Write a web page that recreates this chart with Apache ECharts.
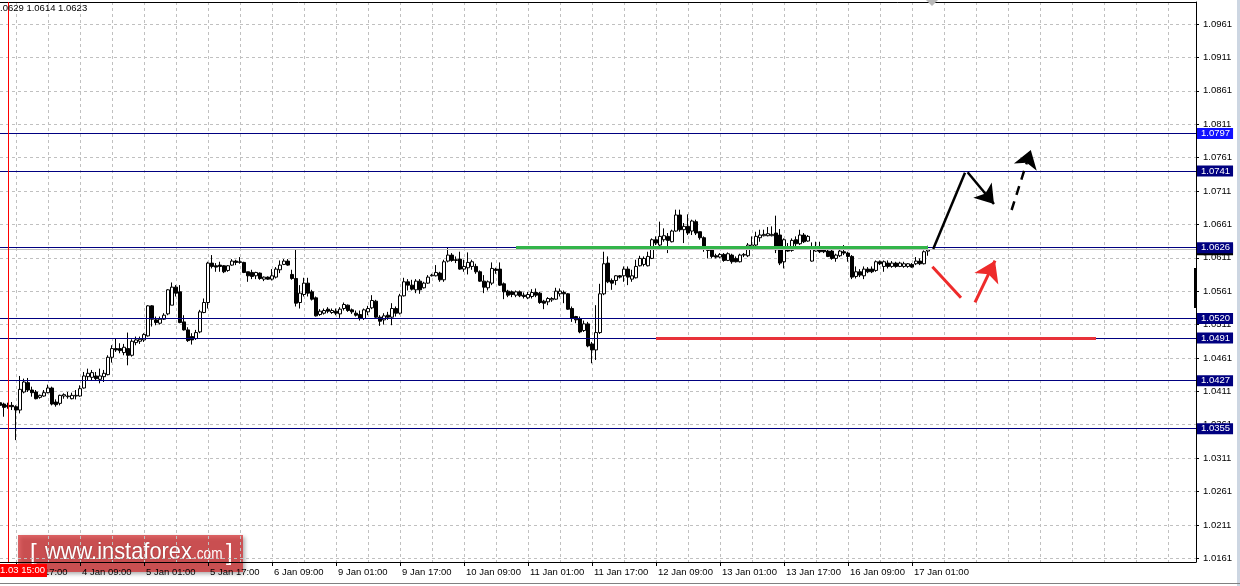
<!DOCTYPE html>
<html><head><meta charset="utf-8">
<script src="https://cdn.jsdelivr.net/npm/echarts@6/dist/echarts.min.js"></script>
<style>html,body{margin:0;padding:0;background:#fff}#c{width:1240px;height:586px}</style>
</head><body><div id="c"></div>
<script>
// EURUSD H1 bars: [open, high, low, close]
const ohlc = [
[1.0394,1.0398,1.0373,1.0390],[1.0392,1.0394,1.0373,1.0387],[1.0390,1.0394,1.0385,1.0388],[1.0390,1.0395,1.0383,1.0388],
[1.0388,1.0390,1.0338,1.0383],[1.0383,1.0434,1.0378,1.0414],[1.0410,1.0430,1.0408,1.0425],[1.0424,1.0431,1.0410,1.0413],
[1.0413,1.0418,1.0403,1.0409],[1.0410,1.0413,1.0399,1.0400],[1.0402,1.0406,1.0400,1.0405],[1.0404,1.0413,1.0403,1.0409],
[1.0409,1.0421,1.0408,1.0416],[1.0416,1.0418,1.0390,1.0392],[1.0395,1.0399,1.0388,1.0391],[1.0393,1.0406,1.0390,1.0405],
[1.0404,1.0408,1.0400,1.0406],[1.0403,1.0410,1.0400,1.0404],[1.0400,1.0409,1.0399,1.0405],[1.0404,1.0413,1.0399,1.0405],
[1.0404,1.0420,1.0403,1.0415],[1.0416,1.0440,1.0415,1.0434],[1.0433,1.0445,1.0428,1.0438],[1.0432,1.0443,1.0428,1.0439],
[1.0434,1.0440,1.0428,1.0430],[1.0429,1.0445,1.0423,1.0434],[1.0433,1.0443,1.0425,1.0438],[1.0436,1.0465,1.0435,1.0462],
[1.0462,1.0480,1.0454,1.0475],[1.0475,1.0490,1.0470,1.0473],[1.0475,1.0483,1.0468,1.0472],[1.0469,1.0482,1.0465,1.0477],
[1.0475,1.0499,1.0450,1.0465],[1.0465,1.0489,1.0463,1.0486],[1.0484,1.0493,1.0480,1.0488],[1.0486,1.0493,1.0482,1.0489],
[1.0488,1.0498,1.0485,1.0496],[1.0494,1.0540,1.0493,1.0539],[1.0539,1.0540,1.0508,1.0519],[1.0518,1.0523,1.0510,1.0514],
[1.0513,1.0523,1.0511,1.0519],[1.0519,1.0528,1.0518,1.0525],[1.0527,1.0564,1.0525,1.0563],[1.0540,1.0574,1.0540,1.0567],
[1.0567,1.0570,1.0553,1.0558],[1.0560,1.0570,1.0513,1.0514],[1.0515,1.0525,1.0502,1.0503],[1.0503,1.0507,1.0485,1.0487],
[1.0493,1.0498,1.0481,1.0488],[1.0490,1.0503,1.0488,1.0499],[1.0500,1.0533,1.0498,1.0530],[1.0529,1.0550,1.0528,1.0544],
[1.0544,1.0605,1.0535,1.0603],[1.0603,1.0615,1.0595,1.0598],[1.0599,1.0603,1.0590,1.0597],[1.0600,1.0605,1.0590,1.0598],
[1.0599,1.0600,1.0588,1.0590],[1.0592,1.0600,1.0590,1.0599],[1.0600,1.0609,1.0599,1.0606],[1.0606,1.0608,1.0600,1.0604],
[1.0604,1.0612,1.0602,1.0605],[1.0604,1.0605,1.0588,1.0589],[1.0590,1.0590,1.0575,1.0584],[1.0589,1.0593,1.0579,1.0583],
[1.0584,1.0590,1.0579,1.0589],[1.0588,1.0589,1.0578,1.0580],[1.0579,1.0583,1.0576,1.0582],[1.0582,1.0583,1.0578,1.0579],
[1.0579,1.0594,1.0577,1.0584],[1.0582,1.0597,1.0580,1.0594],[1.0593,1.0607,1.0588,1.0600],[1.0601,1.0609,1.0600,1.0606],
[1.0606,1.0609,1.0599,1.0600],[1.0586,1.0593,1.0578,1.0580],[1.0580,1.0623,1.0538,1.0543],[1.0544,1.0570,1.0535,1.0558],
[1.0556,1.0581,1.0553,1.0573],[1.0573,1.0581,1.0553,1.0558],[1.0560,1.0563,1.0547,1.0549],[1.0551,1.0553,1.0523,1.0524],
[1.0526,1.0534,1.0524,1.0531],[1.0528,1.0535,1.0526,1.0532],[1.0534,1.0537,1.0528,1.0531],[1.0529,1.0535,1.0527,1.0532],
[1.0531,1.0535,1.0525,1.0528],[1.0527,1.0537,1.0521,1.0534],[1.0535,1.0544,1.0532,1.0541],[1.0540,1.0541,1.0530,1.0532],
[1.0533,1.0535,1.0527,1.0530],[1.0528,1.0532,1.0523,1.0525],[1.0526,1.0532,1.0517,1.0520],[1.0520,1.0535,1.0518,1.0533],
[1.0530,1.0539,1.0525,1.0535],[1.0536,1.0555,1.0534,1.0547],[1.0546,1.0548,1.0521,1.0522],[1.0522,1.0525,1.0509,1.0516],
[1.0518,1.0528,1.0511,1.0524],[1.0525,1.0530,1.0518,1.0522],[1.0522,1.0543,1.0510,1.0535],[1.0535,1.0538,1.0523,1.0528],
[1.0528,1.0557,1.0526,1.0554],[1.0554,1.0581,1.0553,1.0575],[1.0575,1.0579,1.0562,1.0570],[1.0570,1.0578,1.0562,1.0564],
[1.0563,1.0579,1.0558,1.0576],[1.0576,1.0579,1.0557,1.0563],[1.0566,1.0575,1.0565,1.0573],[1.0573,1.0585,1.0572,1.0582],
[1.0584,1.0587,1.0583,1.0585],[1.0584,1.0600,1.0583,1.0589],[1.0588,1.0590,1.0575,1.0578],[1.0578,1.0608,1.0575,1.0605],
[1.0606,1.0626,1.0604,1.0615],[1.0615,1.0618,1.0605,1.0607],[1.0608,1.0613,1.0603,1.0607],[1.0609,1.0620,1.0593,1.0594],
[1.0594,1.0608,1.0590,1.0598],[1.0596,1.0619,1.0586,1.0604],[1.0598,1.0608,1.0593,1.0605],[1.0598,1.0602,1.0587,1.0590],
[1.0590,1.0592,1.0575,1.0576],[1.0576,1.0585,1.0558,1.0567],[1.0566,1.0577,1.0562,1.0575],[1.0573,1.0604,1.0570,1.0595],
[1.0594,1.0596,1.0587,1.0592],[1.0594,1.0604,1.0569,1.0570],[1.0572,1.0574,1.0549,1.0560],[1.0561,1.0563,1.0552,1.0555],
[1.0560,1.0562,1.0552,1.0556],[1.0555,1.0562,1.0552,1.0560],[1.0560,1.0562,1.0552,1.0554],[1.0555,1.0559,1.0550,1.0553],
[1.0551,1.0560,1.0549,1.0556],[1.0553,1.0564,1.0550,1.0559],[1.0559,1.0565,1.0552,1.0555],[1.0558,1.0560,1.0542,1.0544],
[1.0546,1.0548,1.0534,1.0543],[1.0545,1.0552,1.0540,1.0550],[1.0548,1.0552,1.0545,1.0550],[1.0549,1.0566,1.0548,1.0561],
[1.0557,1.0565,1.0553,1.0561],[1.0559,1.0562,1.0543,1.0557],[1.0557,1.0558,1.0533,1.0534],[1.0535,1.0538,1.0515,1.0520],
[1.0523,1.0524,1.0513,1.0518],[1.0520,1.0523,1.0498,1.0500],[1.0502,1.0517,1.0500,1.0512],[1.0512,1.0515,1.0477,1.0479],
[1.0482,1.0485,1.0453,1.0473],[1.0473,1.0540,1.0458,1.0499],[1.0499,1.0572,1.0497,1.0557],[1.0557,1.0620,1.0555,1.0602],
[1.0603,1.0613,1.0573,1.0575],[1.0577,1.0580,1.0563,1.0573],[1.0577,1.0585,1.0570,1.0584],[1.0584,1.0585,1.0580,1.0582],
[1.0584,1.0598,1.0575,1.0594],[1.0594,1.0598,1.0570,1.0582],[1.0579,1.0593,1.0575,1.0584],[1.0581,1.0608,1.0580,1.0598],
[1.0599,1.0614,1.0598,1.0610],[1.0601,1.0613,1.0598,1.0610],[1.0599,1.0620,1.0598,1.0613],[1.0610,1.0640,1.0609,1.0638],
[1.0638,1.0643,1.0630,1.0633],[1.0630,1.0665,1.0628,1.0643],[1.0638,1.0655,1.0635,1.0644],[1.0643,1.0648,1.0618,1.0637],
[1.0635,1.0653,1.0634,1.0651],[1.0651,1.0683,1.0650,1.0675],[1.0675,1.0683,1.0650,1.0653],[1.0653,1.0663,1.0633,1.0658],
[1.0658,1.0676,1.0645,1.0648],[1.0651,1.0668,1.0645,1.0666],[1.0665,1.0668,1.0645,1.0648],[1.0650,1.0650,1.0638,1.0641],
[1.0641,1.0643,1.0620,1.0625],[1.0625,1.0628,1.0610,1.0622],[1.0624,1.0625,1.0610,1.0613],[1.0614,1.0617,1.0610,1.0612],
[1.0612,1.0618,1.0610,1.0616],[1.0616,1.0618,1.0605,1.0607],[1.0607,1.0619,1.0606,1.0617],[1.0615,1.0617,1.0602,1.0605],
[1.0610,1.0613,1.0604,1.0605],[1.0605,1.0617,1.0604,1.0615],[1.0615,1.0618,1.0612,1.0616],[1.0614,1.0633,1.0612,1.0630],
[1.0628,1.0643,1.0627,1.0630],[1.0630,1.0650,1.0628,1.0643],[1.0641,1.0653,1.0635,1.0645],[1.0644,1.0653,1.0643,1.0646],
[1.0644,1.0657,1.0643,1.0647],[1.0644,1.0658,1.0643,1.0646],[1.0648,1.0674,1.0618,1.0623],[1.0645,1.0654,1.0600,1.0603],
[1.0605,1.0640,1.0595,1.0638],[1.0625,1.0633,1.0620,1.0621],[1.0622,1.0640,1.0620,1.0637],[1.0638,1.0643,1.0628,1.0632],
[1.0632,1.0653,1.0630,1.0645],[1.0645,1.0648,1.0633,1.0635],[1.0636,1.0645,1.0635,1.0643],[1.0606,1.0634,1.0605,1.0627],
[1.0621,1.0635,1.0620,1.0628],[1.0625,1.0635,1.0618,1.0620],[1.0624,1.0628,1.0618,1.0620],[1.0621,1.0625,1.0612,1.0613],
[1.0621,1.0624,1.0608,1.0610],[1.0610,1.0617,1.0605,1.0615],[1.0614,1.0623,1.0612,1.0621],[1.0620,1.0630,1.0615,1.0618],
[1.0618,1.0620,1.0605,1.0613],[1.0613,1.0615,1.0579,1.0582],[1.0583,1.0598,1.0580,1.0590],[1.0590,1.0594,1.0582,1.0585],
[1.0584,1.0598,1.0579,1.0594],[1.0594,1.0597,1.0588,1.0590],[1.0594,1.0598,1.0588,1.0590],[1.0592,1.0607,1.0590,1.0605],
[1.0605,1.0607,1.0600,1.0602],[1.0598,1.0607,1.0590,1.0605],[1.0603,1.0607,1.0595,1.0598],[1.0598,1.0606,1.0596,1.0603],
[1.0603,1.0605,1.0596,1.0598],[1.0598,1.0605,1.0597,1.0603],[1.0598,1.0605,1.0596,1.0602],[1.0598,1.0603,1.0596,1.0602],
[1.0601,1.0603,1.0596,1.0597],[1.0602,1.0612,1.0600,1.0606],[1.0606,1.0610,1.0600,1.0602],[1.0602,1.0622,1.0601,1.0620],
[1.0621,1.0629,1.0614,1.0623]
];
const totalSlots = 300;              // bars + empty right margin of the chart
const xTickLabels = ['3 Jan 17:00','4 Jan 09:00','5 Jan 01:00','5 Jan 17:00','6 Jan 09:00','9 Jan 01:00','9 Jan 17:00',
  '10 Jan 09:00','11 Jan 01:00','11 Jan 17:00','12 Jan 09:00','13 Jan 01:00','13 Jan 17:00','16 Jan 09:00','17 Jan 01:00'];
const xTickFirstBar = 4, xTickStepBars = 16, xGridStepBars = 8;
const yTickValues = [1.0961,1.0911,1.0861,1.0811,1.0761,1.0711,1.0661,1.0611,1.0561,1.0511,1.0461,1.0411,1.0361,1.0311,1.0261,1.0211,1.0161];
const yMin = 1.01555, yMax = 1.09939;
const levels = [1.0797,1.0741,1.0626,1.0520,1.0491,1.0427,1.0355];
const highlightLevel = 1.0797;
const bidPrice = 1.0623;
const greenSeg = {from: 129, to: 232, price: 1.0627};
const redSeg = {from: 164, to: 274, price: 1.0491};
const markerBar = 2, markerText = '2017.01.03 15:00';
const headerText = '.0629 1.0614 1.0623';
// forecast sketches: [barIndex, price] pairs
const blackLines = [[[233.3,1.06241],[241.25,1.07384]]];
const blackArrows = [[[241.9,1.0739],[248.5,1.06915]]];
const dashedArrows = [[[252.9,1.06825],[257.7,1.07724]]];
const redLines = [[[233.1,1.05976],[240.25,1.05512]]];
const redArrows = [[[243.75,1.05443],[248.75,1.06066]]];

const FONT = 'Liberation Sans, Arial, sans-serif';
const labelAt = {};
xTickLabels.forEach((t,k)=>{ labelAt[xTickFirstBar + k*xTickStepBars] = t; });
const cats = Array.from({length: totalSlots}, (_, i) => String(i));
const candleData = ohlc.map(([o,h,l,c]) => [o,c,l,h]);

const boxLabel = (text, bg) => ({show: true, position: 'end', distance: 1, formatter: text,
  backgroundColor: bg, color: '#fff', fontFamily: FONT, fontSize: 9.5, lineHeight: 11, padding: [0,3,0,4]});
const levelMarks = levels.map(v => ({
  yAxis: v,
  lineStyle: {color: '#000080', width: 1, type: 'solid'},
  label: boxLabel(v.toFixed(4), v === highlightLevel ? '#1010ff' : '#000080')
}));

const chart = echarts.init(document.getElementById('c'), null, {renderer: 'canvas'});
chart.setOption({
  animation: false,
  backgroundColor: '#fff',
  grid: {left: 0, right: 44, top: 2, bottom: 24, containLabel: false},
  xAxis: [{
    type: 'category', data: cats, boundaryGap: false,
    axisLine: {show: true, onZero: false, lineStyle: {color: '#000', width: 1}},
    axisTick: {show: true, length: 4, lineStyle: {color: '#000'},
      interval: (i) => labelAt[i] !== undefined},
    axisLabel: {show: true, interval: (i) => labelAt[i] !== undefined,
      formatter: (v, i) => labelAt[i] || '', align: 'left', margin: 5, padding: [0,0,0,2],
      color: '#000', fontFamily: FONT, fontSize: 9.5},
    splitLine: {show: true, interval: (i) => i >= xTickFirstBar && (i - xTickFirstBar) % xGridStepBars === 0,
      lineStyle: {color: '#c0c0c0', type: [3,3], width: 1}}
  }, {
    type: 'value', min: 0, max: totalSlots - 1, position: 'top',
    axisLine: {show: true, onZero: false, lineStyle: {color: '#000', width: 1}},
    axisTick: {show: false}, axisLabel: {show: false}, splitLine: {show: false}
  }],
  yAxis: [{
    type: 'value', position: 'right', min: yMin, max: yMax, scale: true,
    axisLine: {show: true, onZero: false, lineStyle: {color: '#000', width: 1}},
    axisTick: {show: true, length: 3, customValues: yTickValues, lineStyle: {color: '#000'}},
    axisLabel: {show: true, customValues: yTickValues, formatter: v => v.toFixed(4), margin: 7,
      color: '#000', fontFamily: FONT, fontSize: 9.5},
    splitLine: {show: true, lineStyle: {color: '#c0c0c0', type: [3,3], width: 1}}
  }],
  series: [{
    type: 'candlestick', xAxisIndex: 0, yAxisIndex: 0, data: candleData,
    barWidth: 3,
    itemStyle: {color: '#fff', color0: '#000', borderColor: '#000', borderColor0: '#000', borderWidth: 1},
    markLine: {
      silent: true, symbol: ['none','none'], animation: false, precision: 6,
      data: [
        {yAxis: bidPrice, lineStyle: {color: '#c0c0c0', width: 1, type: 'solid'}, label: boxLabel(bidPrice.toFixed(4), '#000')},
        ...levelMarks,
        [{coord: [String(greenSeg.from), greenSeg.price], lineStyle: {color: '#33b54a', width: 3, type: 'solid'}, label: {show: false}},
         {coord: [String(greenSeg.to), greenSeg.price]}],
        [{coord: [String(redSeg.from), redSeg.price], lineStyle: {color: '#e8323a', width: 3, type: 'solid'}, label: {show: false}},
         {coord: [String(redSeg.to), redSeg.price]}],
        {xAxis: String(markerBar), lineStyle: {color: '#ff0000', width: 1, type: 'solid'},
          label: {show: true, position: 'start', distance: 2, formatter: markerText, backgroundColor: '#ff0000',
            color: '#fff', fontFamily: FONT, fontSize: 9.5, lineHeight: 13, padding: [0,2]}}
      ]
    }
  }, {
    type: 'lines', coordinateSystem: 'cartesian2d', xAxisIndex: 1, yAxisIndex: 0, z: 6,
    symbol: 'none', lineStyle: {color: '#000', width: 2.5, opacity: 1, curveness: 0},
    data: blackLines.map(c => ({coords: c}))
  }, {
    type: 'lines', coordinateSystem: 'cartesian2d', xAxisIndex: 1, yAxisIndex: 0, z: 6,
    symbol: ['none','arrow'], symbolSize: [12, 18], lineStyle: {color: '#000', width: 2.5, opacity: 1, curveness: 0},
    data: blackArrows.map(c => ({coords: c}))
  }, {
    type: 'lines', coordinateSystem: 'cartesian2d', xAxisIndex: 1, yAxisIndex: 0, z: 6,
    symbol: ['none','arrow'], symbolSize: [12, 18], lineStyle: {color: '#000', width: 2.5, opacity: 1, type: [9,7], curveness: 0},
    data: dashedArrows.map(c => ({coords: c}))
  }, {
    type: 'lines', coordinateSystem: 'cartesian2d', xAxisIndex: 1, yAxisIndex: 0, z: 6,
    symbol: 'none', lineStyle: {color: '#ee2b2b', width: 3, opacity: 1, curveness: 0},
    data: redLines.map(c => ({coords: c}))
  }, {
    type: 'lines', coordinateSystem: 'cartesian2d', xAxisIndex: 1, yAxisIndex: 0, z: 6,
    symbol: ['none','arrow'], symbolSize: [13, 20], lineStyle: {color: '#ee2b2b', width: 3, opacity: 1, curveness: 0},
    data: redArrows.map(c => ({coords: c}))
  }],
  graphic: [
    {type: 'text', left: 0, top: 3, z: 50, style: {text: headerText, font: '9.5px ' + FONT, fill: '#000'}},
    {type: 'polygon', z: 50, shape: {points: [[926,0],[938,0],[932,6]]}, style: {fill: '#b8b8b8'}},
    {type: 'rect', z: 50, shape: {x: 1194, y: 268, width: 3, height: 40}, style: {fill: '#000'}},
    {type: 'rect', z: 50, shape: {x: 1237, y: 0, width: 3, height: 586}, style: {fill: '#cdd6e2'}},
    {type: 'rect', z: 50, shape: {x: 0, y: 583, width: 1240, height: 1}, style: {fill: '#808080'}},
    {type: 'group', z: 100, children: [
      {type: 'rect', shape: {x: 18, y: 535, width: 225, height: 37},
        style: {fill: 'rgba(212,38,42,0.7)', shadowBlur: 4, shadowOffsetX: 2, shadowOffsetY: 2, shadowColor: 'rgba(0,0,0,0.45)'}},
      {type: 'text', x: 30, y: 541, style: {text: '[', font: '24px ' + FONT, fill: '#fff'}},
      {type: 'text', x: 45, y: 540, scaleX: 0.91, style: {text: 'www.instaforex', font: '24px ' + FONT, fill: '#fff',
        textShadowColor: 'rgba(0,0,0,0.3)', textShadowBlur: 2}},
      {type: 'text', x: 193, y: 547, scaleX: 0.85, style: {text: '.com', font: '16px ' + FONT, fill: '#fff'}},
      {type: 'text', x: 226, y: 541, style: {text: ']', font: '24px ' + FONT, fill: '#fff'}}
    ]}
  ]
});
</script>
</body></html>
